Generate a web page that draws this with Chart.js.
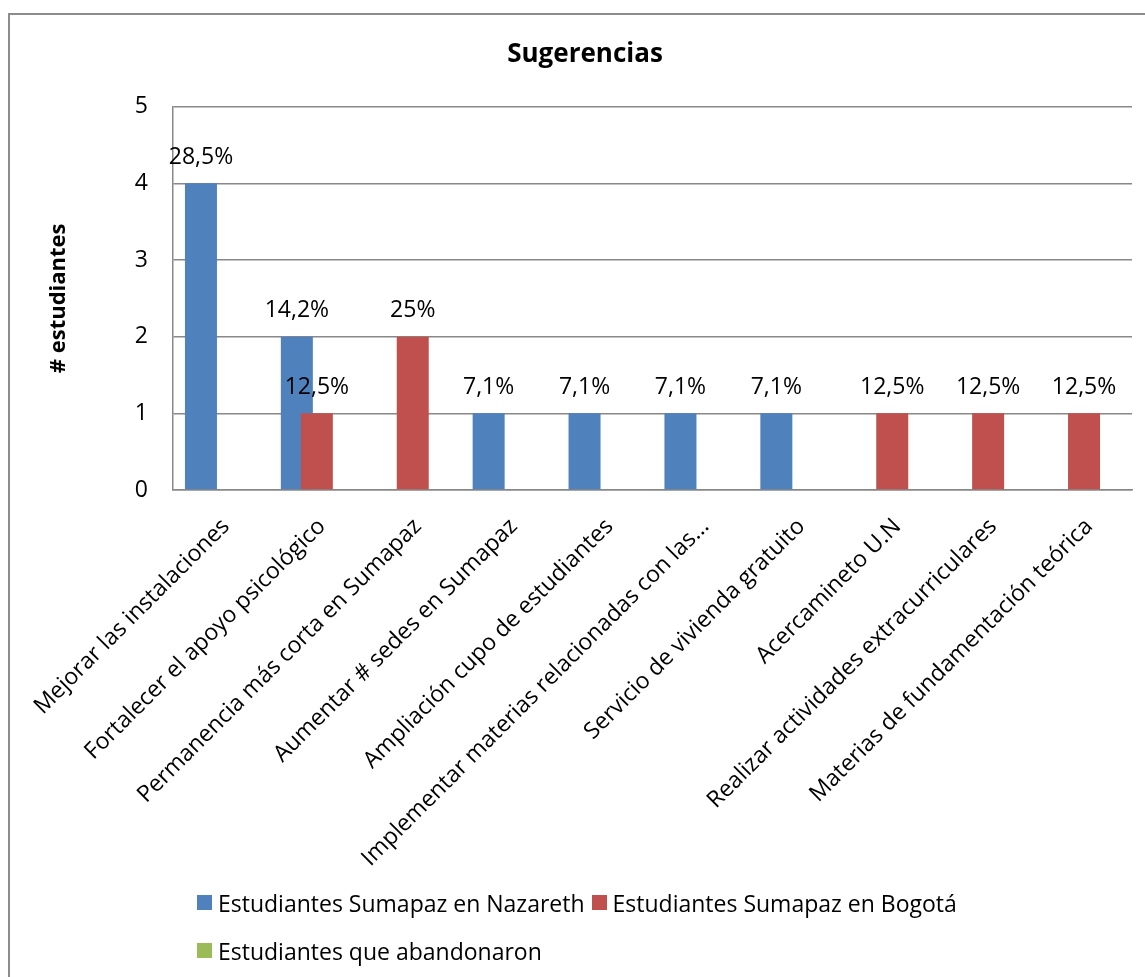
<!DOCTYPE html>
<html>
<head>
<meta charset="utf-8">
<script src="https://cdn.jsdelivr.net/npm/chart.js@4"></script>
<style>
  html, body { margin: 0; padding: 0; background: #fff; overflow: hidden; }
  #wrap { position: relative; width: 1145px; height: 977px; overflow: hidden; }
  #frame { position: absolute; left: 8px; top: 13px; width: 1300px; height: 1100px;
           border-left: 2px solid #8c8c8c; border-top: 2px solid #8c8c8c; box-sizing: border-box; }
  canvas { position: absolute; left: 0; top: 0; }
  #legend { position: absolute; left: 197px; top: 886px; font-family: 'Open Sans', sans-serif;
            font-size: 23px; color: #000; }
  .row { height: 30px; line-height: 30px; margin-bottom: 18px; white-space: nowrap; }
  .item { display: inline-flex; align-items: center; margin-right: 7px; }
  .box { display: inline-block; width: 15px; height: 15px; margin-right: 6px; }
</style>
</head>
<body>
<div id="wrap">
  <div id="frame"></div>
  <canvas id="sugChart" width="1170" height="977"></canvas>
  <div id="legend"></div>
</div>
<script>
const categories = [
  'Mejorar las instalaciones',
  'Fortalecer el apoyo psicológico',
  'Permanencia más corta en Sumapaz',
  'Aumentar # sedes en Sumapaz',
  'Ampliación cupo de estudiantes',
  'Implementar materias relacionadas con las...',
  'Servicio de vivienda gratuito',
  'Acercamineto U.N',
  'Realizar actividades extracurriculares',
  'Materias de fundamentación teórica'
];
const nazareth = [4, 2, 0, 1, 1, 1, 1, 0, 0, 0];
const bogota = [0, 1, 2, 0, 0, 0, 0, 1, 1, 1];
const abandonaron = [0, 0, 0, 0, 0, 0, 0, 0, 0, 0];
const nazarethPct = ['28,5%', '14,2%', '', '7,1%', '7,1%', '7,1%', '7,1%', '', '', ''];
const bogotaPct = ['', '12,5%', '25%', '', '', '', '', '12,5%', '12,5%', '12,5%'];
const abandonaronPct = ['', '', '', '', '', '', '', '', '', ''];
const yTicks = [0, 1, 2, 3, 4, 5];

const seriesNames = ['Estudiantes Sumapaz en Nazareth', 'Estudiantes Sumapaz en Bogotá', 'Estudiantes que abandonaron'];
const seriesColors = ['#4f81bd', '#c0504d', '#9bbb59'];
const pctLabels = [nazarethPct, bogotaPct, abandonaronPct];

Chart.defaults.font.family = "'Open Sans', sans-serif";
Chart.defaults.color = '#000';

// draw bars in dataset order (later series on top, like Excel) and put the % labels over them
const barsAndLabels = {
  id: 'barsAndLabels',
  beforeDatasetsDraw(chart) {
    const ctx = chart.ctx;
    chart.data.datasets.forEach((ds, i) => {
      chart.getDatasetMeta(i).controller.draw();
    });
    ctx.save();
    ctx.font = "23px 'Open Sans', sans-serif";
    ctx.fillStyle = '#000';
    ctx.textAlign = 'center';
    ctx.textBaseline = 'middle';
    pctLabels.forEach((labels, i) => {
      const meta = chart.getDatasetMeta(i);
      labels.forEach((txt, j) => {
        if (!txt) return;
        const bar = meta.data[j];
        ctx.fillText(txt, bar.x, bar.y - 26);
      });
    });
    ctx.restore();
    return false;
  }
};

const ctx = document.getElementById('sugChart').getContext('2d');
new Chart(ctx, {
  type: 'bar',
  data: {
    labels: categories,
    datasets: [nazareth, bogota, abandonaron].map((vals, i) => ({
      label: seriesNames[i],
      data: vals,
      backgroundColor: seriesColors[i],
      borderWidth: 0,
      categoryPercentage: 0.6257,
      barPercentage: 1.6
    }))
  },
  options: {
    responsive: false,
    animation: false,
    layout: { padding: { left: 38, right: 38, top: 0, bottom: 0 } },
    plugins: {
      legend: { display: false },
      tooltip: { enabled: false },
      title: {
        display: true,
        text: 'Sugerencias',
        font: { size: 26, weight: 'bold' },
        color: '#000',
        padding: { top: 39, bottom: 36.5 }
      }
    },
    scales: {
      x: {
        grid: { display: false, drawTicks: false, tickLength: 0 },
        border: { display: true, color: '#888', width: 1.5 },
        ticks: {
          autoSkip: false,
          minRotation: 45,
          maxRotation: 45,
          padding: 23,
          labelOffset: 5,
          font: { size: 23 }
        },
        afterFit(scale) { scale.height = 487; }
      },
      y: {
        min: 0,
        max: 5,
        afterBuildTicks(scale) { scale.ticks = yTicks.map(v => ({ value: v })); },
        grid: { color: '#888', lineWidth: 1.5, drawTicks: false, tickLength: 0 },
        border: { display: true, color: '#888', width: 1.5 },
        ticks: { padding: 25, font: { size: 23 } },
        title: {
          display: true,
          text: '# estudiantes',
          font: { size: 22, weight: 'bold' },
          padding: { top: 7.8 }
        },
        afterFit(scale) { scale.width = 135; }
      }
    }
  },
  plugins: [barsAndLabels]
});

// legend laid out like the original: two items on the first row, one on the second
const legendRows = [[0, 1], [2]];
const legendEl = document.getElementById('legend');
legendRows.forEach(row => {
  const r = document.createElement('div');
  r.className = 'row';
  row.forEach(i => {
    const item = document.createElement('span');
    item.className = 'item';
    const box = document.createElement('span');
    box.className = 'box';
    box.style.background = seriesColors[i];
    item.appendChild(box);
    item.appendChild(document.createTextNode(seriesNames[i]));
    r.appendChild(item);
  });
  legendEl.appendChild(r);
});
</script>
</body>
</html>
